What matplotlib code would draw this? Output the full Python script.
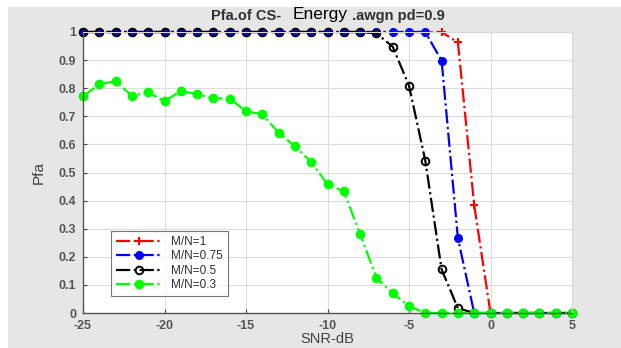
import numpy as np
import matplotlib.pyplot as plt
from matplotlib.patches import Rectangle

# ---------- data ----------
snr = list(range(-25, 6))

pfa_1 = [1] * 23 + [0.963, 0.384] + [0] * 6
pfa_075 = [1] * 22 + [0.898, 0.266, 0.0] + [0] * 6
pfa_05 = [1] * 18 + [0.995, 0.948, 0.809, 0.542, 0.155, 0.017] + [0] * 7
pfa_03 = [0.771, 0.814, 0.825, 0.773, 0.785, 0.754, 0.790, 0.779, 0.764, 0.763,
          0.718, 0.707, 0.642, 0.593, 0.538, 0.458, 0.433, 0.281, 0.126, 0.070,
          0.025] + [0] * 10

labels = ["M/N=1", "M/N=0.75", "M/N=0.5", "M/N=0.3"]
xticks = [-25, -20, -15, -10, -5, 0, 5]
yticks = np.round(np.arange(0, 1.01, 0.1), 1)

plt.rcParams['font.family'] = ['Liberation Sans', 'DejaVu Sans']
plt.rcParams['axes.unicode_minus'] = False

fig = plt.figure(figsize=(6.21, 3.48), dpi=100)
fig.patch.set_facecolor('white')
# grey MATLAB-like figure background with a thin white margin
fig.patches.append(Rectangle((8 / 621, 0), 1, 1 - 7 / 348, transform=fig.transFigure,
                             facecolor='#e6e6e6', edgecolor='none', zorder=-10))

ax = fig.add_axes([83 / 621, 1 - 313 / 348, 489 / 621, 281 / 348])
ax.set_facecolor('white')

kw = dict(linestyle='-.', linewidth=1.6, clip_on=False)
ax.plot(snr, pfa_1, color='red', marker='+', markersize=6, mew=1.5, label=labels[0], **kw)
ax.plot(snr, pfa_075, color='blue', marker='o', markersize=5.5, mfc='blue', mec='blue',
        label=labels[1], **kw)
ax.plot(snr, pfa_05, color='black', marker='o', markersize=5.5, mfc='none', mec='black',
        mew=1.4, label=labels[2], **kw)
ax.plot(snr, pfa_03, color='#00ff00', marker='o', markersize=6, mfc='#00ff00', mec='#00ff00',
        label=labels[3], **kw)

ax.set_xlim(-25, 5)
ax.set_ylim(0, 1)
ax.set_xticks(xticks)
ax.set_yticks(yticks)
ax.set_yticklabels([('%g' % v) for v in yticks])
ax.grid(True, color='#dcdcdc', linewidth=0.8)
ax.set_axisbelow(True)
ax.tick_params(direction='in', length=3, labelsize=9, labelcolor='#555555',
               color='#404040')
ax.tick_params(axis='x', pad=5)
ax.tick_params(axis='y', pad=5)
for lab in ax.get_xticklabels() + ax.get_yticklabels():
    lab.set_fontweight('bold')

for s in ['top', 'right']:
    ax.spines[s].set_color('#d8d8d8')
for s in ['left', 'bottom']:
    ax.spines[s].set_color('#555555')
    ax.spines[s].set_linewidth(1.0)

ax.set_xlabel("SNR-dB", fontsize=10.5, color='#404040', labelpad=0)
ax.set_ylabel("Pfa", fontsize=11, color='#404040', labelpad=9)

leg = ax.legend(loc='lower left', bbox_to_anchor=(0.045, 0.04), fontsize=8.5,
                handlelength=4.0, frameon=True, fancybox=False, borderpad=0.4,
                labelspacing=0.2, handletextpad=0.7)
leg.get_frame().set_edgecolor('#555555')
leg.get_frame().set_linewidth(0.8)
for t in leg.get_texts():
    t.set_color('#303030')

# title made of three pieces, as in the reference
fig.text(281 / 621, 1 - 16 / 348, "Pfa.of CS-", ha='right', va='center',
         fontsize=10.5, fontweight='bold', color='#303030')
fig.text(320 / 621, 1 - 15 / 348, "Energy", ha='center', va='center',
         fontsize=12.5, color='black', family=['Liberation Sans Narrow', 'Liberation Sans'])
fig.text(352 / 621, 1 - 16 / 348, ".awgn pd=0.9", ha='left', va='center',
         fontsize=10.5, fontweight='bold', color='#303030')

fig.savefig("out.png", dpi=100)
